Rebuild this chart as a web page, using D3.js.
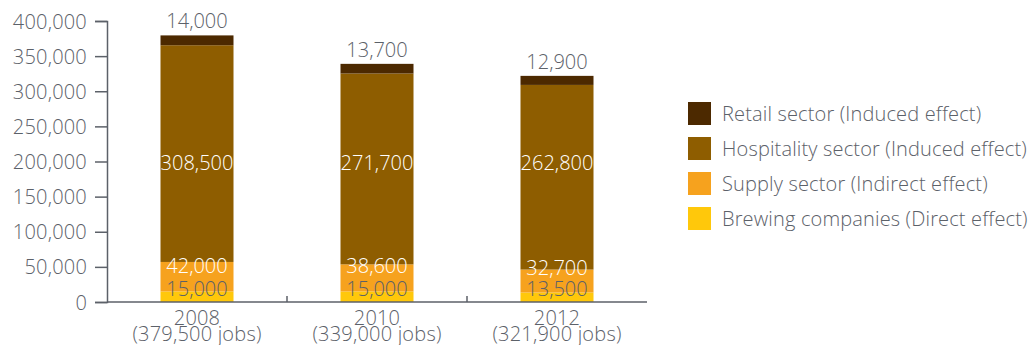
<!DOCTYPE html>
<html>
<head>
<meta charset="utf-8">
<script src="https://cdn.jsdelivr.net/npm/d3@7"></script>
<style>
  body { margin: 0; background: #fff; }
  text { font-family: "Open Sans", "Liberation Sans", Arial, sans-serif; font-weight: 300; }
  .num { letter-spacing: 0.2px; }
</style>
</head>
<body>
<div id="chart"></div>
<script>
var years = ["2008", "2010", "2012"];
var totals = ["(379,500 jobs)", "(339,000 jobs)", "(321,900 jobs)"];
var brewing = [15000, 15000, 13500];
var supply = [42000, 38600, 32700];
var hospitality = [308500, 271700, 262800];
var retail = [14000, 13700, 12900];
var yTicks = [0, 50000, 100000, 150000, 200000, 250000, 300000, 350000, 400000];
var seriesNames = ["Brewing companies (Direct effect)", "Supply sector (Indirect effect)",
                   "Hospitality sector (Induced effect)", "Retail sector (Induced effect)"];
var colors = ["#ffc80b", "#f6a21e", "#8e5d00", "#4c2900"];

var grey = "#5c6169";
var fmt = d3.format(",");

var svg = d3.select("#chart").append("svg")
  .attr("width", 1030).attr("height", 345);

var x = d3.scaleBand().domain(years).range([107, 647]).padding(0);
var y = d3.scaleLinear().domain([0, 400000]).range([302, 21]);
var barW = 73;

// stacked rows
var rows = years.map(function(yr, i) {
  return { year: yr, brewing: brewing[i], supply: supply[i], hospitality: hospitality[i], retail: retail[i] };
});
var keys = ["brewing", "supply", "hospitality", "retail"];
var stack = d3.stack().keys(keys)(rows);

svg.selectAll("g.layer")
  .data(stack)
  .enter().append("g")
  .attr("class", "layer")
  .attr("fill", function(d, i) { return colors[i]; })
  .selectAll("rect")
  .data(function(d) { return d; })
  .enter().append("rect")
  .attr("x", function(d) { return x(d.data.year) + x.bandwidth() / 2 - barW / 2; })
  .attr("y", function(d) { return y(d[1]); })
  .attr("width", barW)
  .attr("height", function(d) { return y(d[0]) - y(d[1]); });

// y axis
var yAxis = svg.append("g")
  .attr("transform", "translate(107,0)")
  .call(d3.axisLeft(y).tickValues(yTicks).tickFormat(fmt).tickSize(12).tickPadding(8));
yAxis.select(".domain").attr("stroke", grey).attr("stroke-width", 1.5);
yAxis.selectAll(".tick line").attr("stroke", grey).attr("stroke-width", 1.5);
yAxis.selectAll(".tick text").attr("class", "num").attr("fill", grey).style("font-size", "20px")
  .attr("dy", "0.35em");

// x baseline and band separators
svg.append("line")
  .attr("x1", x.range()[0]).attr("x2", x.range()[1])
  .attr("y1", y(0)).attr("y2", y(0))
  .attr("stroke", grey).attr("stroke-width", 1.5);
svg.selectAll("line.sep")
  .data(years.slice(1))
  .enter().append("line")
  .attr("class", "sep")
  .attr("x1", function(d) { return x(d); }).attr("x2", function(d) { return x(d); })
  .attr("y1", y(0)).attr("y2", y(0) - 6)
  .attr("stroke", grey).attr("stroke-width", 1.5);

// x labels
var xl = svg.selectAll("text.xl")
  .data(years)
  .enter().append("text")
  .attr("class", "xl num")
  .attr("text-anchor", "middle")
  .attr("fill", grey)
  .style("font-size", "20px")
  .attr("x", function(d) { return x(d) + x.bandwidth() / 2; });
xl.append("tspan").attr("x", function(d) { return x(d) + x.bandwidth() / 2; })
  .attr("y", 325).text(function(d) { return d; });
xl.append("tspan").attr("x", function(d) { return x(d) + x.bandwidth() / 2; })
  .attr("y", 341).text(function(d, i) { return totals[i]; });

// value labels
function cx(i) { return x(years[i]) + x.bandwidth() / 2; }
function addLabels(vals, yFn, fill) {
  svg.selectAll(null)
    .data(vals)
    .enter().append("text")
    .attr("text-anchor", "middle")
    .attr("fill", fill)
    .style("font-size", "20px")
    .attr("x", function(d, i) { return cx(i); })
    .attr("y", yFn)
    .text(function(d) { return fmt(d); });
}
addLabels(brewing, function() { return y(0) - 6; }, grey);
addLabels(supply, function(d, i) { return y(brewing[i]) - 18; }, "#ffffff");
addLabels(hospitality, function() { return y(200000) + 8; }, "#ffffff");
addLabels(retail, function(d, i) { return y(brewing[i] + supply[i] + hospitality[i] + retail[i]) - 7; }, grey);

// legend (top item is retail)
var legend = svg.append("g").attr("transform", "translate(688,102)");
var order = [3, 2, 1, 0];
var li = legend.selectAll("g")
  .data(order)
  .enter().append("g")
  .attr("transform", function(d, i) { return "translate(0," + (i * 35) + ")"; });
li.append("rect").attr("width", 23).attr("height", 23)
  .attr("fill", function(d) { return colors[d]; });
li.append("text").attr("x", 34).attr("y", 19)
  .attr("fill", grey).style("font-size", "20px").style("letter-spacing", "0.15px")
  .text(function(d) { return seriesNames[d]; });
</script>
</body>
</html>
